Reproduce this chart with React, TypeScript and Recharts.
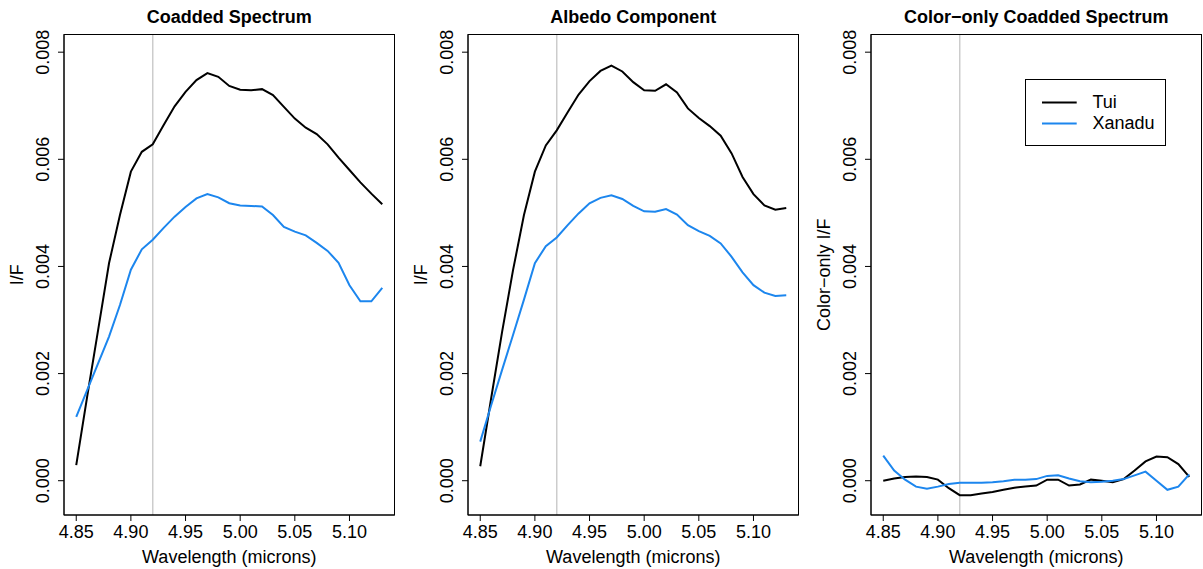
import React from "react";
import { LineChart, Line, XAxis, YAxis, ReferenceLine, Legend } from "recharts";

const wavelength = [
  4.85, 4.86, 4.87, 4.88, 4.89, 4.9, 4.91, 4.92, 4.93, 4.94, 4.95, 4.96, 4.97, 4.98, 4.99,
  5.0, 5.01, 5.02, 5.03, 5.04, 5.05, 5.06, 5.07, 5.08, 5.09, 5.1, 5.11, 5.12, 5.13,
];

const coaddedTui = [
  0.00029, 0.00157, 0.00281, 0.00406, 0.00496, 0.00577, 0.00614, 0.00628, 0.00664, 0.00699,
  0.00726, 0.00748, 0.00761, 0.00754, 0.00737, 0.0073, 0.00729, 0.00731, 0.0072, 0.00698,
  0.00676, 0.00659, 0.00647, 0.00628, 0.00603, 0.0058, 0.00557, 0.00536, 0.00516,
];
const coaddedXanadu = [
  0.00119, 0.00169, 0.00219, 0.00269, 0.00328, 0.00394, 0.00432, 0.0045, 0.00472, 0.00493,
  0.00511, 0.00527, 0.00535, 0.00529, 0.00518, 0.00514, 0.00513, 0.00512, 0.00496, 0.00474,
  0.00465, 0.00458, 0.00444, 0.00429, 0.00407, 0.00365, 0.00335, 0.00335, 0.0036,
];

const albedoTui = [
  0.00027, 0.00154, 0.00278, 0.00393, 0.00496, 0.00577, 0.00626, 0.00654, 0.00688, 0.00721,
  0.00746, 0.00765, 0.00775, 0.00764, 0.00744, 0.00729, 0.00728, 0.0074, 0.00725, 0.00695,
  0.00677, 0.00662, 0.00644, 0.00611, 0.00567, 0.00535, 0.00514, 0.00506, 0.00509,
];
const albedoXanadu = [
  0.00073, 0.00141, 0.00207, 0.00272, 0.00338, 0.00406, 0.00438, 0.00454, 0.00477, 0.00499,
  0.00518, 0.00528, 0.00533, 0.00526, 0.00513, 0.00503, 0.00502, 0.00507, 0.00497, 0.00477,
  0.00466, 0.00457, 0.00443, 0.00418, 0.00389, 0.00365, 0.00351, 0.00345, 0.00346,
];

const colorTui = [
  0.0, 0.00004, 0.00007, 0.00008, 0.00007, 0.00002, -0.00014, -0.00027, -0.00027, -0.00024,
  -0.00021, -0.00017, -0.00013, -0.00011, -0.00009, 0.00002, 0.00002, -0.00009, -0.00007, 0.00002,
  0.0, -0.00003, 0.00003, 0.00019, 0.00036, 0.00045, 0.00044, 0.00031, 0.00007,
];
const colorXanadu = [
  0.00047, 0.00019, 0.00002, -0.00011, -0.00015, -0.00011, -0.00006, -0.00004, -0.00004, -0.00004,
  -0.00003, -0.00001, 0.00002, 0.00002, 0.00003, 0.00009, 0.0001, 0.00004, -0.00001, -0.00003,
  -0.00002, 0.0, 0.00003, 0.0001, 0.00017, 0.0, -0.00017, -0.00011, 0.00012,
];

const xTicks = [4.85, 4.9, 4.95, 5.0, 5.05, 5.1];
const yTicks = [0, 0.002, 0.004, 0.006, 0.008];
const markerWavelength = 4.92;

const X_DOMAIN = [4.8388, 5.1412];
const Y_DOMAIN = [-0.00064, 0.00833];

const FONT = "'Liberation Sans', Arial, Helvetica, sans-serif";
const TUI_COLOR = "#000000";
const XANADU_COLOR = "#1C86EE";

// plot region inside every panel
const PLOT_LEFT = 64;
const PLOT_TOP = 34.5;
const PLOT_W = 330.5;
const PLOT_BOTTOM = 515;
const PANEL_W = 400;
const PANEL_H = 569;

function YTick(props: any) {
  const { x, y, payload } = props;
  const bx = x - 8.6;
  return (
    <text
      x={bx}
      y={y}
      transform={`rotate(-90, ${bx}, ${y})`}
      textAnchor="middle"
      fontSize={18}
      fontFamily={FONT}
      fill="#000"
    >
      {Number(payload.value).toFixed(3)}
    </text>
  );
}

function LegendBox() {
  const rows = [
    { name: "Tui", color: TUI_COLOR },
    { name: "Xanadu", color: XANADU_COLOR },
  ];
  return (
    <div
      style={{
        width: 139,
        height: 65,
        border: "1px solid #000",
        background: "#fff",
        position: "relative",
        fontFamily: FONT,
        fontSize: 18,
      }}
    >
      {rows.map((r, i) => (
        <div key={r.name} style={{ position: "absolute", left: 0, top: 12 + i * 21, height: 21, width: 139 }}>
          <svg width={60} height={21} style={{ position: "absolute", left: 0, top: 0 }}>
            <line x1={16} x2={50.7} y1={10.5} y2={10.5} stroke={r.color} strokeWidth={2} />
          </svg>
          <span style={{ position: "absolute", left: 66.5, top: 0, lineHeight: "21px" }}>{r.name}</span>
        </div>
      ))}
    </div>
  );
}

type PanelProps = {
  left: number;
  title: string;
  yLabel: string;
  tui: number[];
  xanadu: number[];
  legend?: boolean;
};

function Panel({ left, title, yLabel, tui, xanadu, legend }: PanelProps) {
  const data = wavelength.map((w, i) => ({ w, tui: tui[i], xanadu: xanadu[i] }));
  const cx = PLOT_LEFT + PLOT_W / 2;
  return (
    <div style={{ position: "absolute", left, top: 0, width: PANEL_W, height: PANEL_H }}>
      <LineChart
        width={PANEL_W}
        height={PANEL_H}
        data={data}
        margin={{ top: PLOT_TOP, right: PANEL_W - PLOT_LEFT - PLOT_W, bottom: PANEL_H - PLOT_BOTTOM - 40, left: 8 }}
        style={{ fontFamily: FONT }}
      >
        <XAxis
          dataKey="w"
          type="number"
          domain={X_DOMAIN}
          ticks={xTicks}
          tickFormatter={(v: number) => v.toFixed(2)}
          height={40}
          tickSize={6}
          tickMargin={4}
          axisLine={{ stroke: "#000" }}
          tickLine={{ stroke: "#000" }}
          tick={{ fill: "#000", fontSize: 18, fontFamily: FONT }}
          allowDataOverflow
        />
        <YAxis
          type="number"
          domain={Y_DOMAIN}
          ticks={yTicks}
          width={56}
          tickSize={6}
          tickMargin={0}
          axisLine={{ stroke: "#000" }}
          tickLine={{ stroke: "#000" }}
          tick={<YTick />}
          allowDataOverflow
        />
        <ReferenceLine x={markerWavelength} stroke="#CCCCCC" strokeWidth={1.5} />
        <Line
          type="linear"
          dataKey="tui"
          name="Tui"
          stroke={TUI_COLOR}
          strokeWidth={2}
          dot={false}
          isAnimationActive={false}
        />
        <Line
          type="linear"
          dataKey="xanadu"
          name="Xanadu"
          stroke={XANADU_COLOR}
          strokeWidth={2}
          dot={false}
          isAnimationActive={false}
        />
        {legend && (
          <Legend
            layout="horizontal"
            verticalAlign="middle"
            align="center"
            content={() => <LegendBox />}
            wrapperStyle={{ position: "absolute", left: 218.3, top: 79.3, width: 141, height: 67 }}
          />
        )}
      </LineChart>
      <svg
        width={PANEL_W}
        height={PANEL_H}
        style={{ position: "absolute", left: 0, top: 0, pointerEvents: "none" }}
        fontFamily={FONT}
      >
        {/* plot box */}
        <rect
          x={PLOT_LEFT}
          y={PLOT_TOP}
          width={PLOT_W}
          height={PLOT_BOTTOM - PLOT_TOP}
          fill="none"
          stroke="#000"
          strokeWidth={1}
        />
        <text x={cx} y={23.3} textAnchor="middle" fontSize={18} fontWeight="bold" fill="#000">
          {title}
        </text>
        <text x={cx} y={562.5} textAnchor="middle" fontSize={18} fill="#000">
          Wavelength (microns)
        </text>
        <text
          x={PLOT_LEFT - 41}
          y={(PLOT_TOP + PLOT_BOTTOM) / 2}
          transform={`rotate(-90, ${PLOT_LEFT - 41}, ${(PLOT_TOP + PLOT_BOTTOM) / 2})`}
          textAnchor="middle"
          fontSize={18}
          fill="#000"
        >
          {yLabel}
        </text>
      </svg>
    </div>
  );
}

export default function App() {
  return (
    <div
      style={{
        position: "absolute",
        left: 0,
        top: 0,
        width: 1203,
        height: 569,
        background: "#fff",
        overflow: "hidden",
      }}
    >
      <Panel left={0} title="Coadded Spectrum" yLabel="I/F" tui={coaddedTui} xanadu={coaddedXanadu} />
      <Panel left={403.7} title="Albedo Component" yLabel="I/F" tui={albedoTui} xanadu={albedoXanadu} />
      <Panel
        left={806.7}
        title="Color−only Coadded Spectrum"
        yLabel="Color−only I/F"
        tui={colorTui}
        xanadu={colorXanadu}
        legend
      />
    </div>
  );
}
